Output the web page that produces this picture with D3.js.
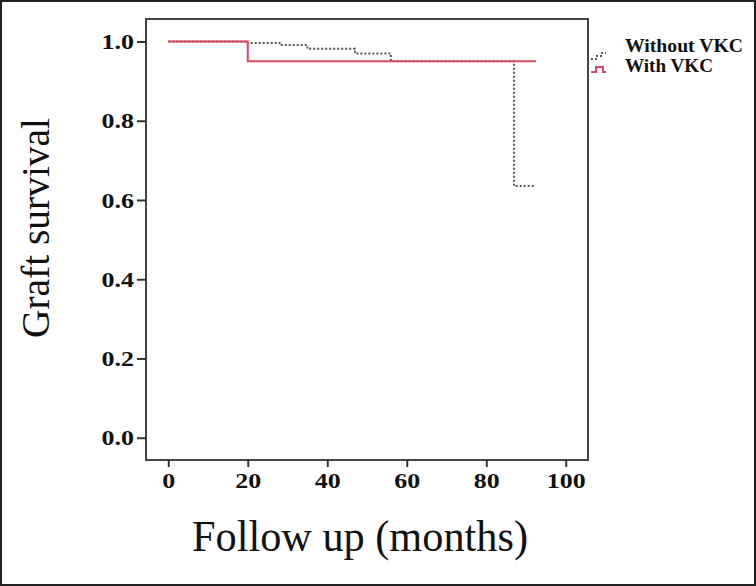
<!DOCTYPE html>
<html>
<head>
<meta charset="utf-8">
<script src="https://cdn.jsdelivr.net/npm/d3@7"></script>
<style>
  body { margin: 0; background: #fff; }
  svg { display: block; }
</style>
</head>
<body>
<svg id="plotCanvas" width="756" height="586"></svg>
<script>
// Kaplan-Meier style step data
var withoutTimes = [0, 20, 28, 35, 47, 56, 87, 92];
var withoutSurv  = [1.0, 0.996, 0.991, 0.982, 0.970, 0.95, 0.635, 0.635];
var withTimes = [0, 20, 92.5];
var withSurv  = [1.0, 0.95, 0.95];

var xTicks = [0, 20, 40, 60, 80, 100];
var yTicks = [0.0, 0.2, 0.4, 0.6, 0.8, 1.0];
var legendLabels = ["Without VKC", "With VKC"];

var canvas = d3.select("#plotCanvas");
var serif = "'Liberation Serif', 'Times New Roman', serif";

//outer border of the whole picture
canvas.append("rect")
    .attr("x", 1).attr("y", 1)
    .attr("width", 754).attr("height", 584)
    .attr("fill", "white")
    .attr("stroke", "#222")
    .attr("stroke-width", 2);

var x = d3.scaleLinear().domain([0, 100]).range([168.3, 565.7]);
var y = d3.scaleLinear().domain([0, 1]).range([437.7, 41.5]);

//plot frame
var frame = {left: 146, top: 19, right: 588, bottom: 460};
canvas.append("rect")
    .attr("x", frame.left).attr("y", frame.top)
    .attr("width", frame.right - frame.left)
    .attr("height", frame.bottom - frame.top)
    .attr("fill", "none")
    .attr("stroke", "#444")
    .attr("stroke-width", 2);

//y axis
var yAxis = canvas.append("g")
    .attr("transform", "translate(" + frame.left + ",0)")
    .call(d3.axisLeft(y).tickValues(yTicks).tickFormat(d3.format(".1f")).tickSize(9).tickPadding(3));
yAxis.select(".domain").remove();

//x axis
var xAxis = canvas.append("g")
    .attr("transform", "translate(0," + frame.bottom + ")")
    .call(d3.axisBottom(x).tickValues(xTicks).tickSize(7).tickPadding(5));
xAxis.select(".domain").remove();

canvas.selectAll(".tick line").attr("stroke", "#333").attr("stroke-width", 2);
canvas.selectAll(".tick text")
    .attr("fill", "#111")
    .style("font-family", serif)
    .style("font-weight", "bold")
    .style("font-size", "22px")
    .each(function() {
        //the picture is a bit stretched sideways, widen the glyphs to match
        var len = this.getComputedTextLength();
        d3.select(this)
            .attr("textLength", len * 1.18)
            .attr("lengthAdjust", "spacingAndGlyphs");
    });

//survival curves
var stepLine = d3.line()
    .x(function(d) { return x(d[0]); })
    .y(function(d) { return y(d[1]); })
    .curve(d3.curveStepAfter);

canvas.append("path")
    .datum(d3.zip(withoutTimes, withoutSurv))
    .attr("d", stepLine)
    .attr("fill", "none")
    .attr("stroke", "#555")
    .attr("stroke-width", 2)
    .attr("stroke-dasharray", "2,2");

canvas.append("path")
    .datum(d3.zip(withTimes, withSurv))
    .attr("d", stepLine)
    .attr("fill", "none")
    .attr("stroke", "#dc4a62")
    .attr("stroke-width", 2);

//axis titles
canvas.append("text")
    .attr("x", 192).attr("y", 551)
    .attr("textLength", 336)
    .attr("lengthAdjust", "spacingAndGlyphs")
    .attr("fill", "#111")
    .style("font-family", serif)
    .style("font-size", "44px")
    .text("Follow up (months)");

canvas.append("text")
    .attr("transform", "translate(49,338) rotate(-90)")
    .attr("textLength", 220)
    .attr("lengthAdjust", "spacingAndGlyphs")
    .attr("fill", "#111")
    .style("font-family", serif)
    .style("font-size", "40px")
    .text("Graft survival");

//legend
var legendY = [52, 72];
var legendWidth = [118, 88];
var legendGlyphs = [
    {color: "#555", dash: "2,2", pts: [[591, 59], [597, 59], [597, 56], [602, 56], [602, 53], [606, 53]]},
    {color: "#dc4a62", dash: null, pts: [[591, 72], [596, 72], [596, 67], [603, 67], [603, 72], [606, 72]]}
];

legendLabels.forEach(function(label, i) {
    canvas.append("path")
        .attr("d", d3.line()(legendGlyphs[i].pts))
        .attr("fill", "none")
        .attr("stroke", legendGlyphs[i].color)
        .attr("stroke-width", 2)
        .attr("stroke-dasharray", legendGlyphs[i].dash);

    canvas.append("text")
        .attr("x", 625).attr("y", legendY[i])
        .attr("textLength", legendWidth[i])
        .attr("lengthAdjust", "spacingAndGlyphs")
        .attr("fill", "#111")
        .style("font-family", serif)
        .style("font-weight", "bold")
        .style("font-size", "18px")
        .text(label);
});
</script>
</body>
</html>
